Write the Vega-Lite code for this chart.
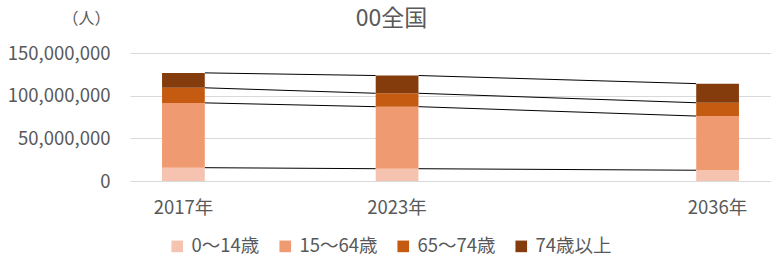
{
  "$schema": "https://vega.github.io/schema/vega-lite/v6.json",
  "autosize": {"type": "none"},
  "padding": {"left": 130, "top": 53, "right": 0, "bottom": 76},
  "width": 641,
  "height": 128,
  "background": "#ffffff",
  "config": {
    "font": "Noto Sans CJK JP",
    "view": {"stroke": null}
  },
  "title": {
    "text": "00全国",
    "fontSize": 23,
    "fontWeight": "normal",
    "color": "#595959",
    "font": "Noto Sans CJK JP",
    "dx": -59,
    "offset": -21
  },
  "data": {
    "values": [
      {"year": "2017年", "age": "0～14歳", "value": 15590000},
      {"year": "2017年", "age": "15～64歳", "value": 75960000},
      {"year": "2017年", "age": "65～74歳", "value": 17670000},
      {"year": "2017年", "age": "74歳以上", "value": 17480000},
      {"year": "2023年", "age": "0～14歳", "value": 14400000},
      {"year": "2023年", "age": "15～64歳", "value": 72700000},
      {"year": "2023年", "age": "65～74歳", "value": 15700000},
      {"year": "2023年", "age": "74歳以上", "value": 20800000},
      {"year": "2036年", "age": "0～14歳", "value": 12600000},
      {"year": "2036年", "age": "15～64歳", "value": 63500000},
      {"year": "2036年", "age": "65～74歳", "value": 15600000},
      {"year": "2036年", "age": "74歳以上", "value": 22400000}
    ]
  },
  "encoding": {
    "x": {
      "field": "year",
      "type": "nominal",
      "scale": {
        "domain": ["2017年", " ", "2023年", "  ", "   ", "2036年"],
        "paddingInner": 0.6,
        "paddingOuter": 0.3
      },
      "axis": {
        "title": null,
        "labelAngle": 0,
        "labelFontSize": 18.5,
        "labelColor": "#595959",
        "labelPadding": 17,
        "domain": false,
        "ticks": false
      }
    }
  },
  "layer": [
    {
      "mark": {"type": "bar"},
      "encoding": {
        "y": {
          "field": "value",
          "type": "quantitative",
          "aggregate": "sum",
          "stack": "zero",
          "scale": {"domain": [0, 150000000], "nice": false},
          "axis": {
            "title": "（人）",
            "titleAngle": 0,
            "titleAlign": "center",
            "titleBaseline": "middle",
            "titleX": -44,
            "titleY": -35,
            "titleFontSize": 16,
            "titleFontWeight": "normal",
            "titleColor": "#595959",
            "values": [0, 50000000, 100000000, 150000000],
            "format": ",.0f",
            "labelFontSize": 18.5,
            "labelColor": "#595959",
            "labelPadding": 20,
            "domain": false,
            "ticks": false,
            "gridColor": "#D9D9D9",
            "gridWidth": 1
          }
        },
        "color": {
          "field": "age",
          "type": "nominal",
          "scale": {
            "domain": ["0～14歳", "15～64歳", "65～74歳", "74歳以上"],
            "range": ["#F5C3B0", "#F09A72", "#C55A11", "#843C0C"]
          },
          "legend": {
            "title": null,
            "orient": "none",
            "direction": "horizontal",
            "legendX": 38,
            "legendY": 184,
            "symbolType": "square",
            "symbolSize": 135,
            "symbolStrokeWidth": 0,
            "labelFontSize": 18.5,
            "labelColor": "#595959",
            "labelOffset": 5,
            "labelLimit": 0,
            "columnPadding": 16
          }
        },
        "order": {"field": "age", "sort": "ascending"}
      }
    },
    {
      "transform": [
        {
          "window": [{"op": "sum", "field": "value", "as": "cum"}],
          "groupby": ["year"],
          "sort": [{"field": "age", "order": "ascending"}],
          "frame": [null, 0]
        },
        {
          "window": [
            {"op": "lead", "field": "cum", "as": "cum2"},
            {"op": "lead", "field": "year", "as": "year2"}
          ],
          "groupby": ["age"],
          "sort": [{"field": "year", "order": "ascending"}],
          "frame": [null, null]
        },
        {"filter": "datum.year2 != null"}
      ],
      "mark": {"type": "rule", "color": "#000000", "strokeWidth": 1, "xOffset": 21.5, "x2Offset": -21.5},
      "encoding": {
        "x2": {"field": "year2"},
        "y": {"field": "cum", "type": "quantitative"},
        "y2": {"field": "cum2"}
      }
    }
  ]
}
